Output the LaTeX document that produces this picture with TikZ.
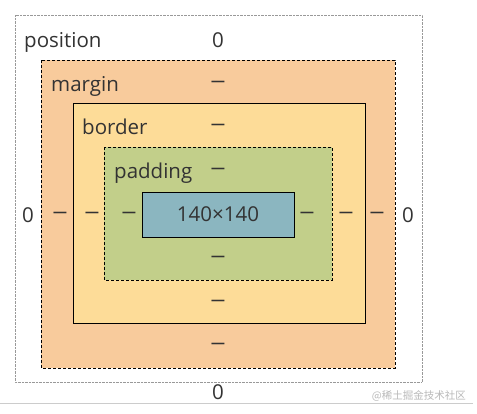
\documentclass[tikz,border=0pt]{standalone}
\usepackage{graphicx}
\usepackage{fontspec}
\setmainfont{Open Sans}
\newfontfamily\cjk{Noto Sans CJK SC}
\definecolor{marginc}{HTML}{F8CB9C}
\definecolor{borderc}{HTML}{FDDC98}
\definecolor{paddingc}{HTML}{C2CF8A}
\definecolor{contentc}{HTML}{8BB6C0}
\definecolor{txt}{HTML}{333333}
\newcommand{\wdash}{\scalebox{1.5}[1]{–}}
\begin{document}
\begin{tikzpicture}[x=1pt,y=-1pt,
  lbl/.style={text=txt,font=\fontsize{20.5}{24}\selectfont,inner sep=0pt,anchor=base},
  dsh/.style={text=txt,font=\fontsize{20.5}{24}\selectfont,inner sep=0pt},
  lname/.style={lbl,anchor=base west},
  dline/.style={draw=black,line width=1pt,dash pattern=on 3pt off 2pt}]
\useasboundingbox (0,0) rectangle (477,413);
\fill[white] (0,0) rectangle (477,413);
% boxes
\draw[gray!80,densely dotted] (15,15) rectangle (422,382);
\path[fill=marginc,dline] (41,60) rectangle (395,368);
\path[fill=borderc,draw=black,line width=1pt] (73,103) rectangle (365,323);
\path[fill=paddingc,dline] (104,147) rectangle (332,280);
\node[draw=black,fill=contentc,line width=1pt,minimum width=152pt,minimum height=45pt,inner sep=0pt,text=txt,font=\fontsize{20.5}{24}\selectfont] (content) at (218,214.5) {140×140};
% labels
\node[lname] (lpos) at (24,47) {position};
\node[lname] (lmar) at (51,91) {margin};
\node[lname] (lbor) at (82,134) {border};
\node[lname] (lpad) at (114,178) {padding};
\node[lbl] (ptop) at (218,47) {0};
\node[lbl] (pbot) at (218,399) {0};
\node[lbl] (pleft) at (28,222) {0};
\node[lbl] (pright) at (408,222) {0};
\node[dsh] (mtop) at (218,84) {\wdash};
\node[dsh] (btop) at (218,127) {\wdash};
\node[dsh] (ptopd) at (218,171) {\wdash};
\node[dsh] (pbotd) at (218,259) {\wdash};
\node[dsh] (bbot) at (218,303) {\wdash};
\node[dsh] (mbot) at (218,346) {\wdash};
\node[dsh] (ml) at (60,215) {\wdash};
\node[dsh] (bl) at (92,215) {\wdash};
\node[dsh] (pl) at (129,215) {\wdash};
\node[dsh] (pr) at (307,215) {\wdash};
\node[dsh] (br) at (346,215) {\wdash};
\node[dsh] (mr) at (377,215) {\wdash};
% bottom rule and watermark
\draw[gray!40,line width=0.8pt] (0,403) -- (473,403);
\node[text=gray!55,font=\cjk\fontsize{10.5}{12}\selectfont,inner sep=0pt,anchor=east] (wm) at (466,396) {@稀土掘金技术社区};
\end{tikzpicture}
\end{document}
